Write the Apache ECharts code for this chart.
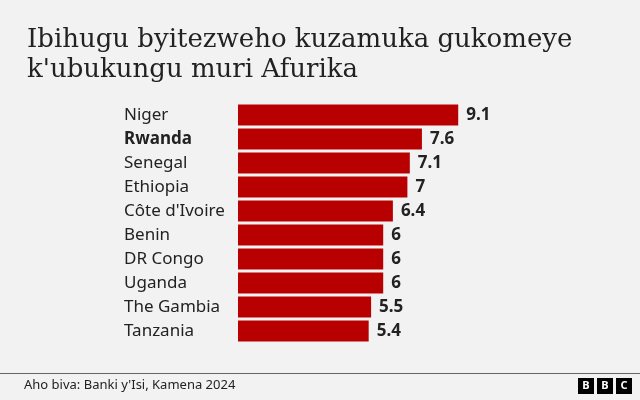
<!DOCTYPE html>
<html>
<head>
<meta charset="utf-8">
<script src="https://cdn.jsdelivr.net/npm/echarts@6/dist/echarts.min.js"></script>
<style>
    html, body { margin: 0; padding: 0; background: #f2f2f2; }
    #chart { width: 640px; height: 400px; }
</style>
</head>
<body>
<div id="chart"></div>
<script>
    // country names, top to bottom
    var countries = ['Niger', 'Rwanda', 'Senegal', 'Ethiopia', "Côte d'Ivoire", 'Benin', 'DR Congo', 'Uganda', 'The Gambia', 'Tanzania'];
    // expected growth, %
    var growth = [9.1, 7.6, 7.1, 7, 6.4, 6, 6, 6, 5.5, 5.4];
    var highlight = 'Rwanda';

    var chart = echarts.init(document.getElementById('chart'));
    var option = {
        backgroundColor: '#f2f2f2',
        title: {
            text: "Ibihugu byitezweho kuzamuka gukomeye\nk'ubukungu muri Afurika",
            left: 22,
            top: 20,
            textStyle: {
                fontFamily: 'DejaVu Serif',
                fontSize: 26,
                fontWeight: 'normal',
                lineHeight: 30,
                color: '#222222'
            }
        },
        grid: {
            left: 238,
            right: 160,
            top: 103,
            bottom: 57
        },
        xAxis: {
            type: 'value',
            min: 0,
            max: 10,
            show: false
        },
        yAxis: {
            type: 'category',
            inverse: true,
            data: countries,
            axisLine: { show: false },
            axisTick: { show: false },
            axisLabel: {
                align: 'left',
                margin: 114,
                fontFamily: 'Noto Sans',
                fontSize: 17,
                color: '#222222',
                formatter: function (v) {
                    return v === highlight ? '{b|' + v + '}' : v;
                },
                rich: {
                    b: { fontFamily: 'Noto Sans', fontSize: 17, fontWeight: 'bold', color: '#222222' }
                }
            }
        },
        series: [{
            type: 'bar',
            data: growth,
            barWidth: 21,
            itemStyle: { color: '#b80000' },
            label: {
                show: true,
                position: 'right',
                distance: 8,
                fontFamily: 'Noto Sans',
                fontSize: 17,
                fontWeight: 'bold',
                color: '#222222'
            },
            silent: true
        }],
        graphic: [
            { type: 'rect', shape: { x: 0, y: 373, width: 640, height: 1 }, style: { fill: '#666666' } },
            { type: 'text', x: 24, y: 385, style: { text: "Aho biva: Banki y'Isi, Kamena 2024", font: '13px "Noto Sans"', fill: '#222222', textVerticalAlign: 'middle' } },
            { type: 'rect', shape: { x: 578, y: 378, width: 16, height: 16 }, style: { fill: '#000000' } },
            { type: 'rect', shape: { x: 597, y: 378, width: 16, height: 16 }, style: { fill: '#000000' } },
            { type: 'rect', shape: { x: 616, y: 378, width: 16, height: 16 }, style: { fill: '#000000' } },
            { type: 'text', x: 586, y: 386, style: { text: 'B', font: 'bold 11px "Noto Sans"', fill: '#ffffff', textAlign: 'center', textVerticalAlign: 'middle' } },
            { type: 'text', x: 605, y: 386, style: { text: 'B', font: 'bold 11px "Noto Sans"', fill: '#ffffff', textAlign: 'center', textVerticalAlign: 'middle' } },
            { type: 'text', x: 624, y: 386, style: { text: 'C', font: 'bold 11px "Noto Sans"', fill: '#ffffff', textAlign: 'center', textVerticalAlign: 'middle' } }
        ]
    };
    chart.setOption(option);
</script>
</body>
</html>
